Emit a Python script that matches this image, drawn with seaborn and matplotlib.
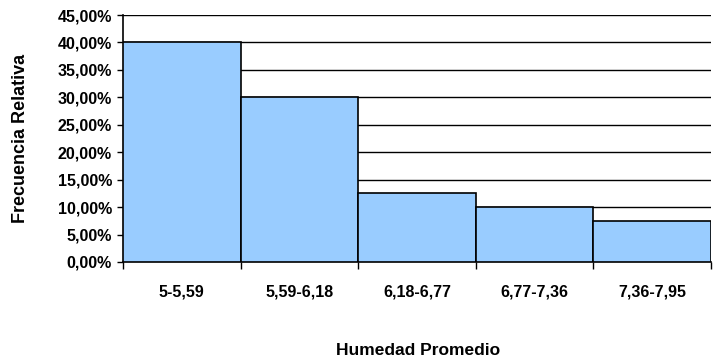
import matplotlib
matplotlib.use("Agg")
import matplotlib.pyplot as plt
import seaborn as sns
import pandas as pd
import numpy as np
from matplotlib.ticker import FuncFormatter, FixedLocator

categories = ["5-5,59", "5,59-6,18", "6,18-6,77", "6,77-7,36", "7,36-7,95"]
values = [0.40, 0.30, 0.125, 0.10, 0.075]
y_ticks = [0.0, 0.05, 0.10, 0.15, 0.20, 0.25, 0.30, 0.35, 0.40, 0.45]

sns.set_theme(style="white")
plt.rcParams['font.family'] = ['Liberation Sans', 'DejaVu Sans']

df = pd.DataFrame({"Humedad Promedio": categories, "Frecuencia Relativa": values})

fig = plt.figure(figsize=(7.14, 3.6), dpi=100)
ax = fig.add_axes([123/714, 98/360, (711-123)/714, (262-15)/360])

sns.barplot(data=df, x="Humedad Promedio", y="Frecuencia Relativa", ax=ax,
            color="#99CCFF", saturation=1, width=1.0, edgecolor="black", linewidth=1.2,
            zorder=3)

ax.set_ylim(0, 0.45)
ax.set_xlim(-0.5, len(categories) - 0.5)
ax.set_yticks(y_ticks)
ax.yaxis.set_major_formatter(FuncFormatter(lambda v, p: f"{v*100:.2f}%".replace(".", ",")))
for y in y_ticks[1:]:
    ax.axhline(y, color="black", linewidth=1.0, zorder=1)

ax.xaxis.set_minor_locator(FixedLocator(np.arange(-0.5, len(categories), 1.0)))
ax.tick_params(axis="x", which="major", length=0, pad=16.5)
ax.tick_params(axis="x", which="minor", length=5, width=1, color="black", direction="out", bottom=True)
ax.tick_params(axis="y", which="major", length=4, width=1, color="black", direction="out", left=True, pad=4)

for lab in ax.get_xticklabels() + ax.get_yticklabels():
    lab.set_fontweight("bold")
    lab.set_fontsize(11.5)
    lab.set_color("black")

ax.set_xlabel("Humedad Promedio", fontsize=12.5, fontweight="bold", color="black")
ax.xaxis.set_label_coords(418/714, 5/360, transform=fig.transFigure)
ax.xaxis.label.set_va("baseline")

ax.set_ylabel("Frecuencia Relativa", fontsize=13, fontweight="bold", color="black")
ax.yaxis.set_label_coords(21/714, (360-138.5)/360, transform=fig.transFigure)
ax.yaxis.label.set_va("center")

for s in ["top", "right"]:
    ax.spines[s].set_visible(False)
for s in ["left", "bottom"]:
    ax.spines[s].set_color("black")
    ax.spines[s].set_linewidth(1.2)

fig.savefig("out.png", dpi=100)
